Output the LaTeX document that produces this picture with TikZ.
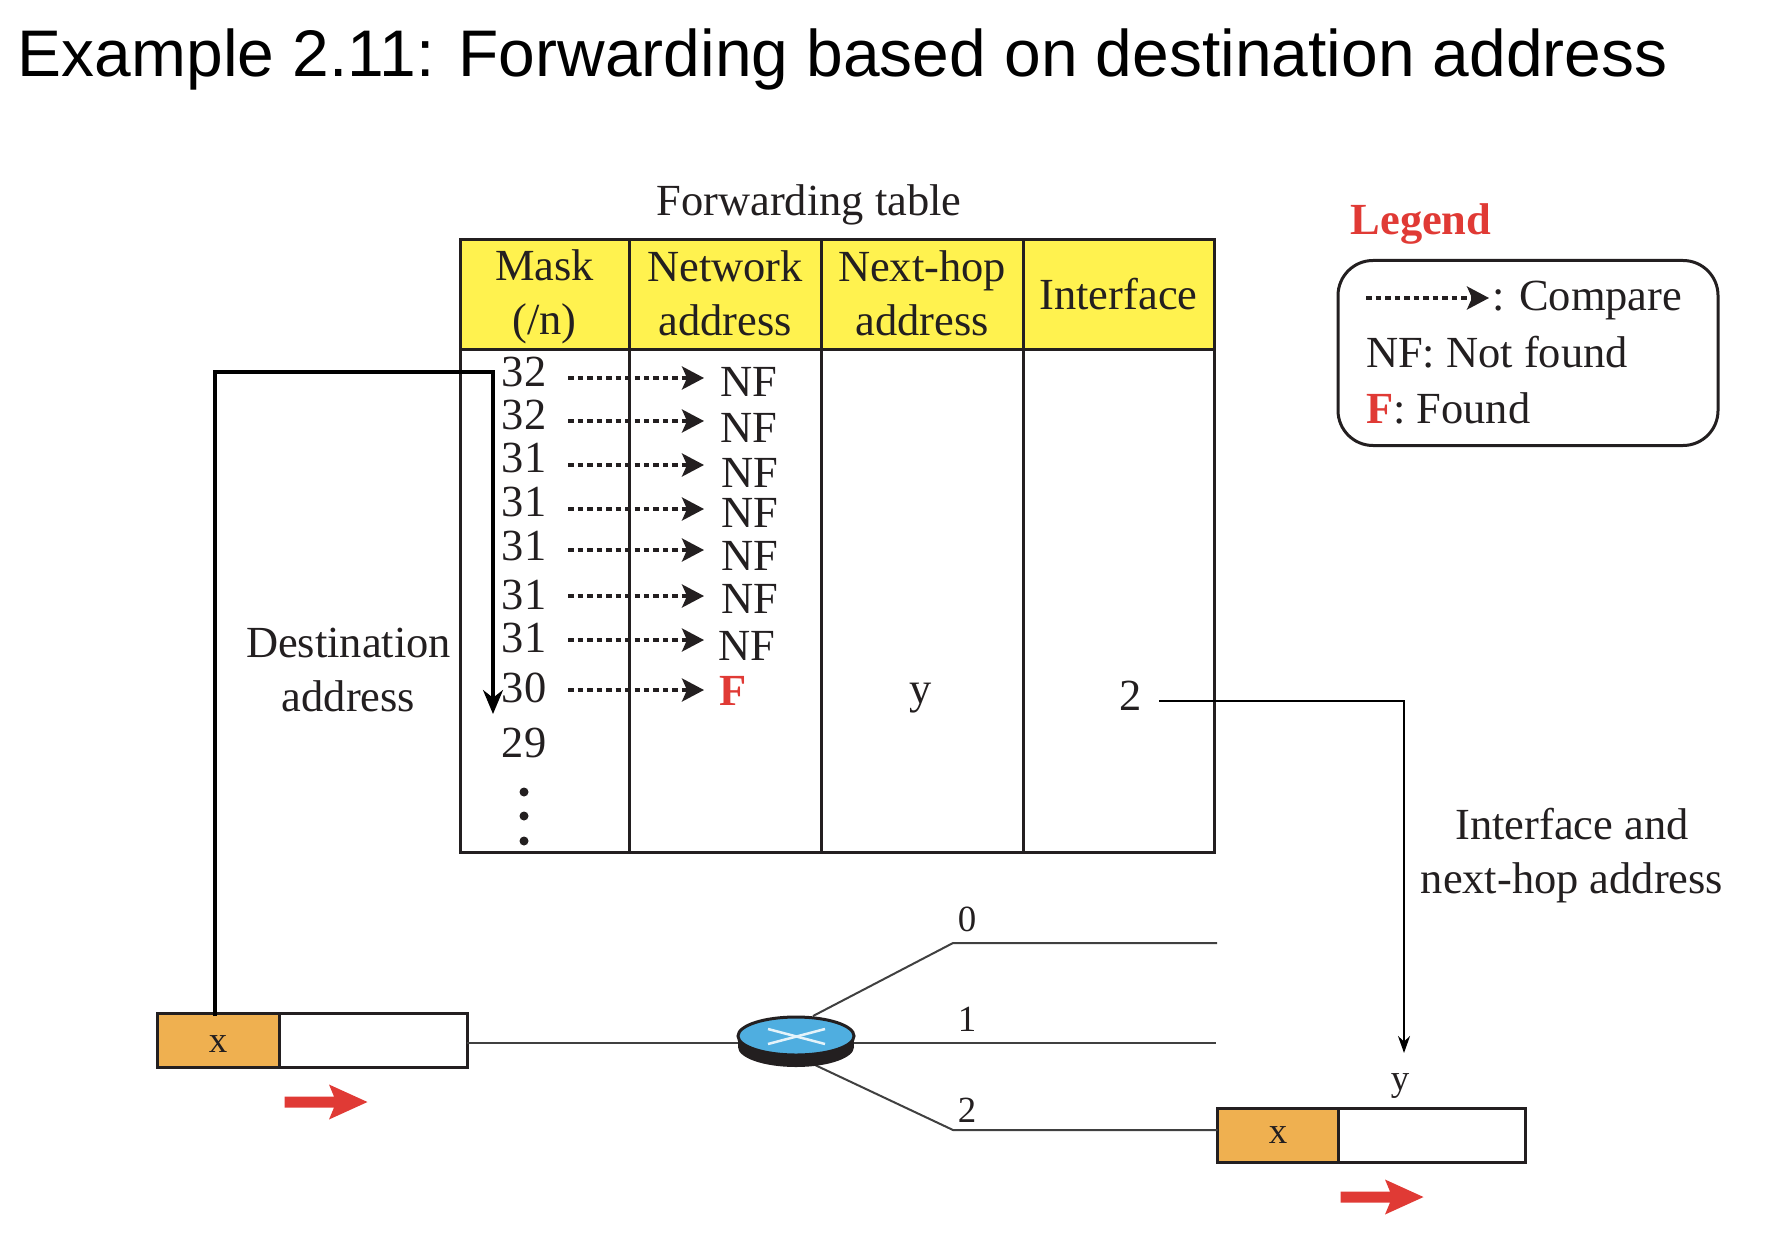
\documentclass[tikz,border=0pt]{standalone}
\usepackage{fontspec}
\setmainfont{Liberation Serif}
\newfontfamily\titlefont{Liberation Sans}
\usetikzlibrary{arrows.meta,shapes.geometric}
\definecolor{inkc}{HTML}{231F20}
\definecolor{headyellow}{HTML}{FFF24F}
\definecolor{pktorange}{HTML}{EFB050}
\definecolor{routerblue}{HTML}{4FAEE0}
\definecolor{foundred}{HTML}{E03A35}
\newcommand{\bodyfont}{\fontsize{12.65}{15.4}\selectfont}
\newcommand{\smallfont}{\fontsize{10.5}{12}\selectfont}
\begin{document}
\begin{tikzpicture}[
    line width=.03cm, inkc,
    every node/.style={inner sep=0pt, outer sep=0pt, text=inkc, font=\bodyfont},
    headcell/.style={draw, fill=headyellow, minimum height=1.10cm},
    compare/.style={line width=.035cm, dash pattern=on .055cm off .04cm, -{Stealth[length=.22cm,width=.23cm,inset=.05cm]}},
    pktbox/.style={draw, minimum height=.54cm},
    linkline/.style={line width=.02cm, black!75},
    redarrow/.pic={\fill[foundred] (-.415,.055) -- (.08,.055) -- (.03,.175) -- (.415,0) -- (.03,-.175) -- (.08,-.055) -- (-.415,-.055) -- cycle;},
    lab/.style={font=\smallfont}]

  \useasboundingbox (-.01,.01) rectangle (17.81,12.53);

  \node[font=\titlefont\fontsize{18.75}{22}\selectfont, anchor=base west, text=black] (title) at (.17,11.76)
      {Example 2.11: Forwarding based on destination address};

  \node (tablename) at (8.08,10.48) {Forwarding table};
  \node[headcell, minimum width=1.69cm] (hmask) at (5.435,9.58) {};
  \node[headcell, minimum width=1.92cm] (hnet) at (7.24,9.58) {};
  \node[headcell, minimum width=2.02cm] (hnext) at (9.21,9.58) {};
  \node[headcell, minimum width=1.91cm] (hint) at (11.175,9.58) {};
  \node[align=center] (tmask) at ([yshift=-.02cm]hmask) {Mask\\(/n)};
  \node[align=center] (tnet) at ([yshift=.02cm]hnet) {Network\\address};
  \node[align=center] (tnext) at ([yshift=.02cm]hnext) {Next-hop\\address};
  \node (tint) at ([yshift=.01cm]hint) {Interface};

  \foreach \a/\b in {4.59/6.28, 6.28/8.20, 8.20/10.22, 10.22/12.13} {
      \draw (\a,9.03) rectangle (\b,4.01);
  }

  \foreach \i/\my/\val/\ay/\nx/\ny in {
      1/8.81/32/8.75/7.48/8.71,
      2/8.38/32/8.32/7.48/8.25,
      3/7.95/31/7.88/7.49/7.80,
      4/7.51/31/7.44/7.49/7.40,
      5/7.07/31/7.03/7.49/6.97,
      6/6.58/31/6.57/7.49/6.54,
      7/6.15/31/6.13/7.46/6.07} {
      \node (m\i) at (5.23,\my) {\val};
      \node (nf\i) at (\nx,\ny) {NF};
      \coordinate (ca\i) at (5.67,\ay);
      \coordinate (cb\i) at (7.03,\ay);
      \draw[compare] (ca\i) -- (cb\i);
  }
  \node (m8) at (5.23,5.65) {30};
  \node[text=foundred, font=\bodyfont\bfseries] (found) at (7.32,5.62) {F};
  \coordinate (ca8) at (5.67,5.63);
  \coordinate (cb8) at (7.03,5.63);
  \draw[compare] (ca8) -- (cb8);
  \node (m9) at (5.23,5.10) {29};
  \foreach \y in {4.61,4.37,4.12} {
      \fill (5.23,\y) circle (.045);
  }

  \node (nexthop) at (9.20,5.55) {y};
  \node (iface) at (11.30,5.57) {2};

  \node (destlabel) at (3.475,5.83) [align=center] {Destination\\address};
  \node (outlabel) at (15.71,3.975) [align=center] {Interface and\\next-hop address};

  \node[font=\bodyfont\bfseries, text=foundred] (legend) at (14.20,10.29) {Legend};
  \node[draw, rounded corners=.35cm, minimum width=3.80cm, minimum height=1.85cm] (legendbox) at (15.27,9.00) {};
  \coordinate (la) at (13.65,9.55);
  \coordinate (lb) at (14.88,9.55);
  \draw[compare] (la) -- (lb);
  \node[anchor=base west] (lcompare) at (14.91,9.42) {: Compare};
  \node[anchor=base west] (lnf) at (13.65,8.85) {NF: Not found};
  \node[anchor=base west] (lf) at (13.65,8.29) {\textcolor{foundred}{\bfseries F}: Found};

  \node[pktbox, fill=pktorange, minimum width=1.22cm] (inhead) at (2.17,2.13) {};
  \node[lab, yshift=-.04cm] at (inhead) {x};
  \node[pktbox, minimum width=1.88cm] (intail) at (3.72,2.13) {};
  \pic at (3.25,1.51) {redarrow};

  \node[pktbox, fill=pktorange, minimum width=1.21cm] (outhead) at (12.77,1.18) {};
  \node[lab] at (outhead) {x};
  \node[pktbox, minimum width=1.87cm] (outtail) at (14.31,1.18) {};
  \pic at (13.81,.56) {redarrow};

  \coordinate (lin) at (7.44,2.10);
  \coordinate (lone) at (12.15,2.10);
  \coordinate (bend0) at (9.52,3.10);
  \coordinate (end0) at (12.16,3.10);
  \coordinate (bend2) at (9.52,1.23);
  \draw[linkline] (intail.east |- lin) -- (lin);
  \draw[linkline] (lin) -- (lone);
  \draw[linkline] (8.12,2.37) -- (bend0) -- (end0);
  \draw[linkline] (8.14,1.88) -- (bend2) -- (outhead.west |- bend2);

  \fill[inkc] (7.95,2.06) ellipse (.58 and .20);
  \fill[inkc] (7.37,2.06) rectangle (8.53,2.17);
  \node[ellipse, draw, fill=routerblue, minimum width=1.16cm, minimum height=.38cm] (router) at (7.95,2.17) {};
  \draw[white!85!routerblue, line width=.025cm] (7.67,2.24) -- (8.24,2.09);
  \draw[white!85!routerblue, line width=.025cm] (7.67,2.09) -- (8.24,2.24);

  \node[lab] (port0) at (9.66,3.34) {0};
  \node[lab] (port1) at (9.66,2.34) {1};
  \node[lab] (port2) at (9.66,1.43) {2};
  \node[lab] (outy) at (13.99,1.67) {y};

  \coordinate (destcorner) at (4.92,8.81);
  \coordinate (destend) at (4.92,5.39);
  \coordinate (deststart) at ([xshift=-.03cm,yshift=-.03cm]inhead.north);
  \draw[line width=.032cm, black, -{Stealth[length=.24cm,width=.2cm]}] (deststart) |- (destcorner) -- (destend);

  \coordinate (ifstart) at (11.58,5.52);
  \coordinate (ifcorner) at (14.03,5.52);
  \coordinate (ifend) at (14.03,2.00);
  \draw[line width=.02cm, black, -{Stealth[length=.17cm,width=.12cm]}] (ifstart) -- (ifcorner) -- (ifend);

\end{tikzpicture}
\end{document}
